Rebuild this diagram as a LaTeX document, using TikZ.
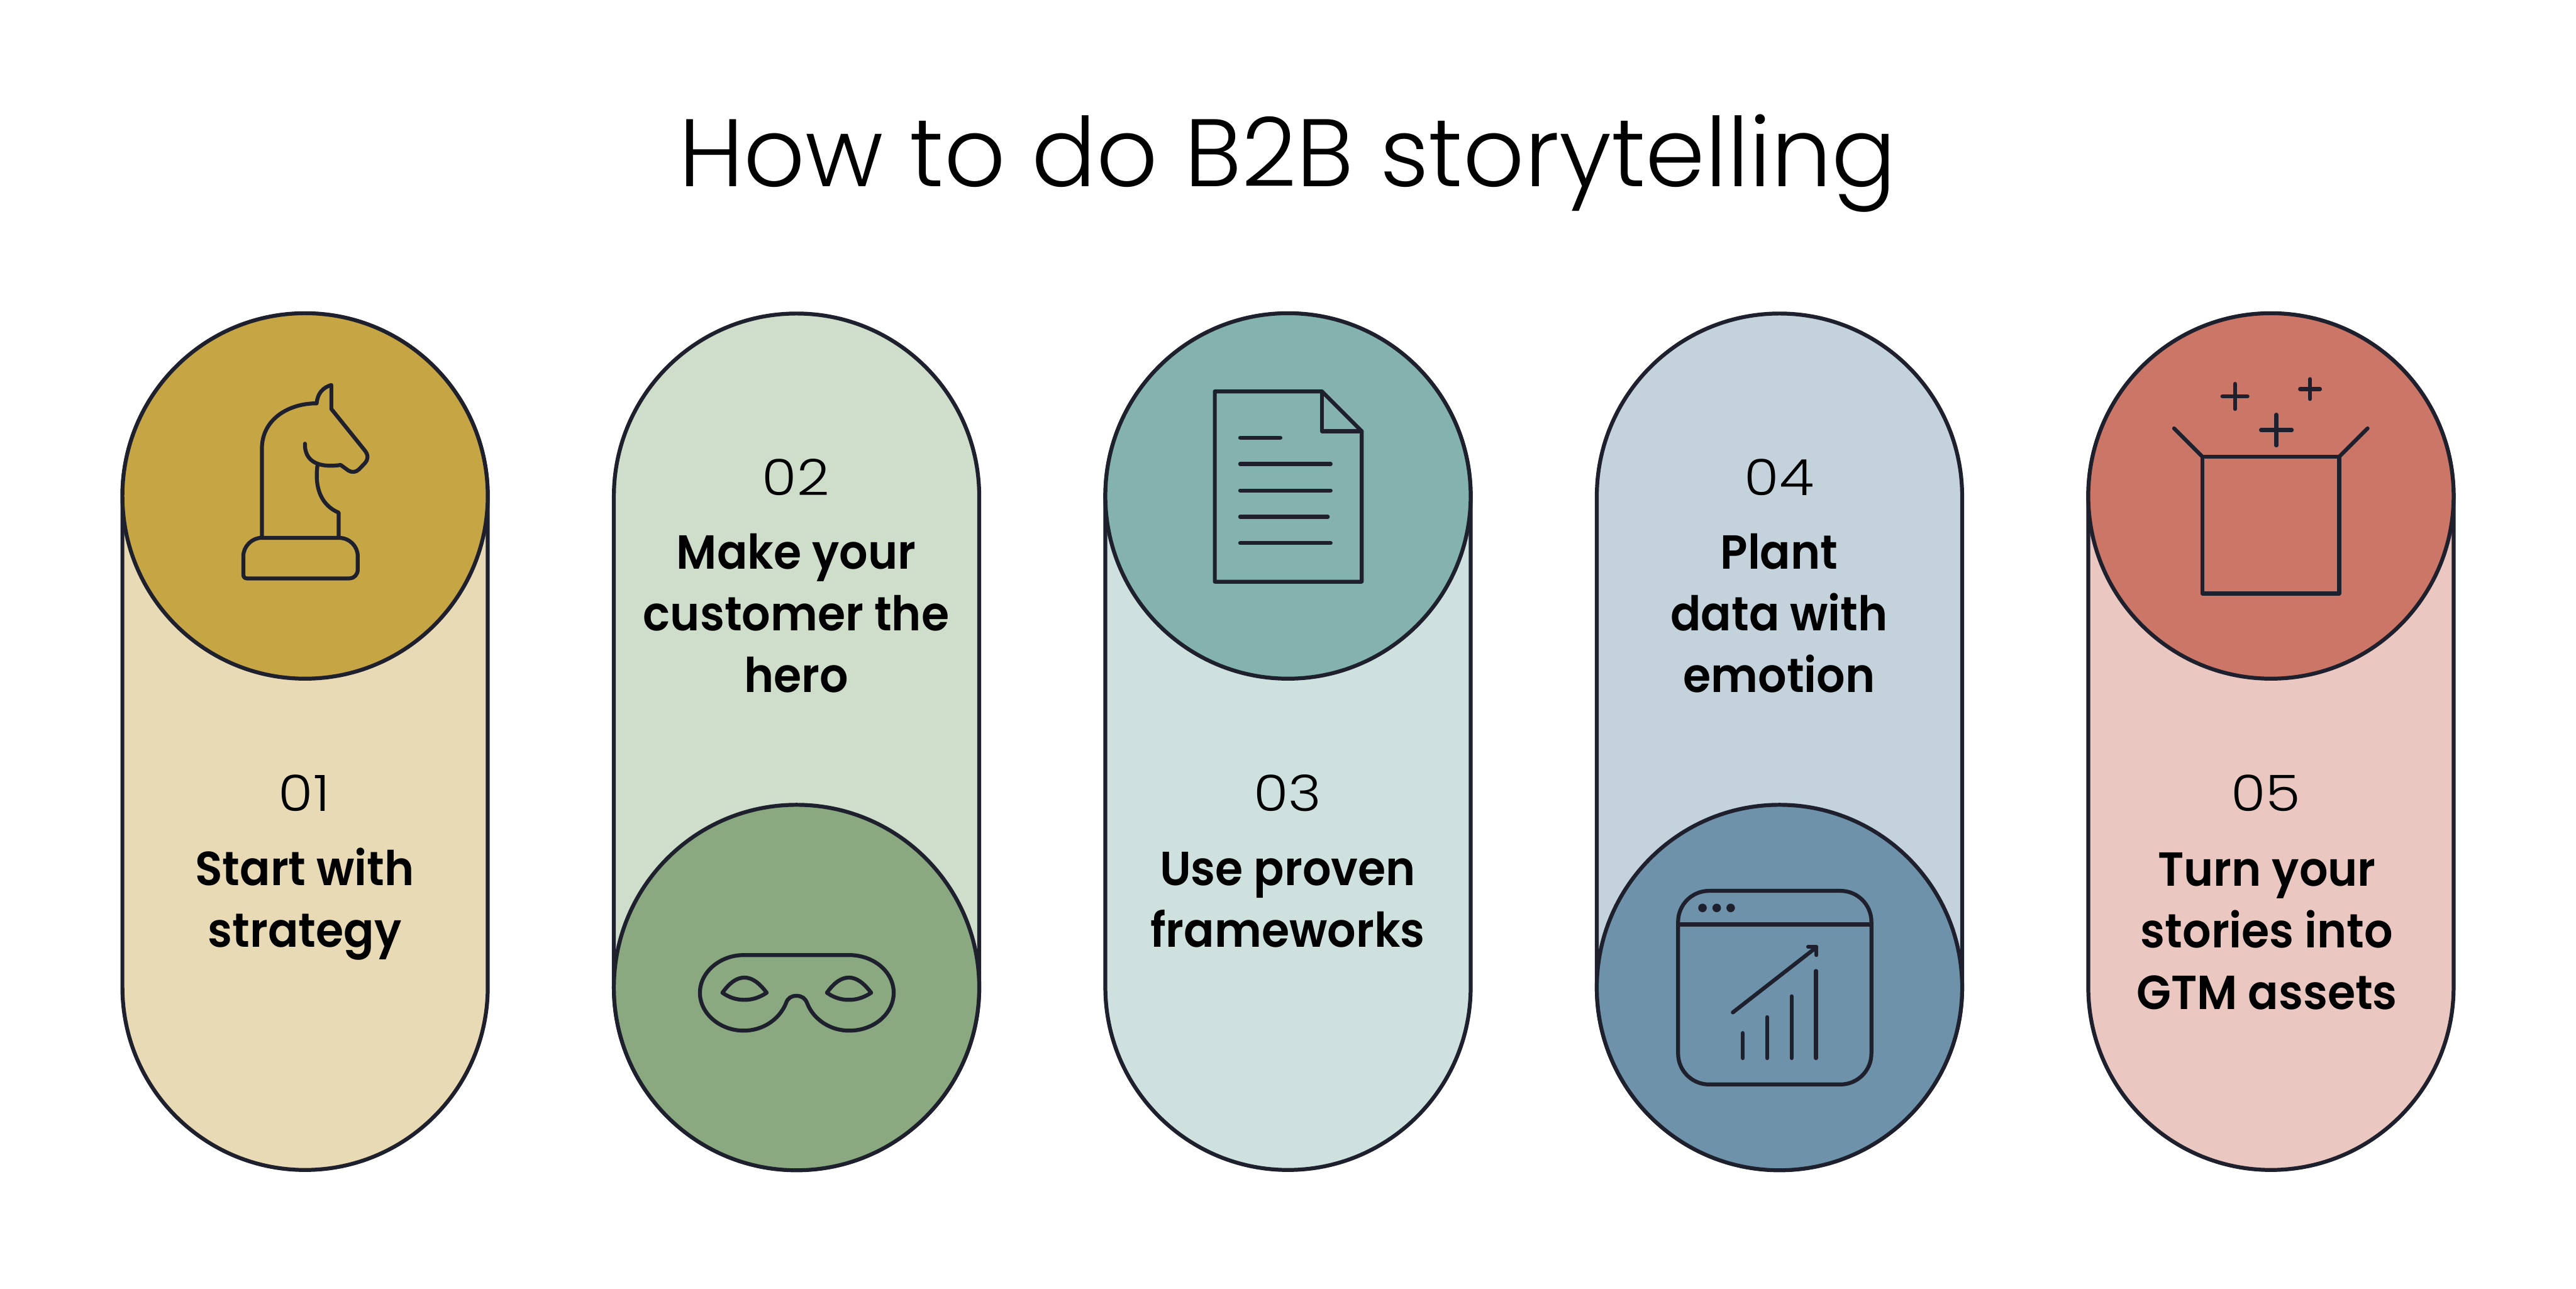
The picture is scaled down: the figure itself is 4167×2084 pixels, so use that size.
\documentclass[tikz,border=0pt]{standalone}
\usepackage{fontspec}
\setmainfont{Poppins}
\newfontfamily\titlefont{Poppins Light}
\newfontfamily\bodyfont[FakeStretch=0.94]{Poppins SemiBold}
\newfontfamily\numfont[FakeStretch=1.13]{Poppins Light}
\definecolor{ink}{HTML}{1E212D}
\definecolor{goldD}{HTML}{C6A544}\definecolor{goldL}{HTML}{E8DAB5}
\definecolor{greenD}{HTML}{8AA981}\definecolor{greenL}{HTML}{CFDDCB}
\definecolor{tealD}{HTML}{84B3AF}\definecolor{tealL}{HTML}{CEE1DF}
\definecolor{blueD}{HTML}{6E92A9}\definecolor{blueL}{HTML}{C4D2DB}
\definecolor{coralD}{HTML}{CB7666}\definecolor{coralL}{HTML}{EBC7C1}
\tikzset{
  capsule/.style={draw=ink,fill=#1,line width=1.8pt,rounded corners=2.955cm},
  badge/.style={draw=ink,fill=#1,line width=1.8pt},
  icon/.style={draw=ink,line width=1.8pt,line cap=round,line join=round},
  numlabel/.style={text=black,inner sep=0pt,anchor=base,font=\numfont\fontsize{23}{28}\selectfont},
  bodylabel/.style={text=black,inner sep=0pt,anchor=base,align=center,font=\bodyfont\fontsize{22}{28.35}\selectfont},
  crop/.style={x=#1,y=-#1}
}
\begin{document}
\begin{tikzpicture}[x=0.01cm,y=-0.01cm]
\useasboundingbox[fill=white] (0,0) rectangle (4167,2084);
\node[inner sep=0pt,anchor=base,text=black,font=\titlefont\fontsize{44.1}{54}\selectfont] (title) at (2083,302) {How to do B2B storytelling};
% capsules
\draw[capsule=goldL]  (198,507) rectangle (789,1892);
\draw[capsule=greenL] (993,507) rectangle (1584,1892);
\draw[capsule=tealL]  (1788,507) rectangle (2379,1892);
\draw[capsule=blueL]  (2583,507) rectangle (3174,1892);
\draw[capsule=coralL] (3378,507) rectangle (3969,1892);
% badges
\draw[badge=goldD]  (493.5,802) circle (295.5);
\draw[badge=greenD] (1288.5,1597) circle (295.5);
\draw[badge=tealD]  (2083.5,802) circle (295.5);
\draw[badge=blueD]  (2878.5,1597) circle (295.5);
\draw[badge=coralD] (3673.5,802) circle (295.5);
% knight
\begin{scope}[shift={(190,500)},crop=0.003954cm]
\draw[icon] (591,935) -- (591,570) .. controls (591,450) and (700,385) .. (815,385)
  .. controls (818,345) and (840,320) .. (875,310) -- (875,408) -- (1012,578)
  .. controls (1028,598) and (1025,615) .. (1012,630) -- (988,655)
  .. controls (975,668) and (958,668) .. (945,660) -- (913,637)
  .. controls (860,645) and (765,645) .. (767,550);
\draw[icon] (818,640) .. controls (805,740) and (840,805) .. (905,832) -- (905,935);
\draw[icon] (590,935) -- (905,935) .. controls (950,935) and (983,970) .. (983,1010) -- (983,1065)
  .. controls (983,1085) and (968,1101) .. (950,1101) -- (530,1101)
  .. controls (520,1101) and (515,1095) .. (515,1085) -- (515,1010)
  .. controls (515,970) and (550,935) .. (590,935) -- cycle;
\end{scope}
% mask
\begin{scope}[shift={(1000,1300)},crop=0.003827cm]
\draw[icon] (975,638) .. controls (1080,638) and (1163,710) .. (1163,797) .. controls (1163,885) and (1080,957) .. (975,957)
  .. controls (895,957) and (825,910) .. (798,842) .. controls (790,820) and (775,810) .. (752,810)
  .. controls (730,810) and (715,820) .. (708,842) .. controls (680,910) and (610,957) .. (530,957)
  .. controls (430,957) and (345,885) .. (345,797) .. controls (345,710) and (430,638) .. (530,638) -- cycle;
\foreach \dx in {0,441}{
\draw[icon,xshift=\dx*0.003827cm] (440,797) .. controls (470,755) and (500,733) .. (533,733) .. controls (565,733) and (595,755) .. (627,797)
  .. controls (595,818) and (565,827) .. (533,827) .. controls (500,827) and (470,818) .. (440,797) -- cycle;}
\end{scope}
% document
\begin{scope}[shift={(1780,500)},crop=0.003827cm]
\draw[icon] (483,347) -- (935,347) -- (1103,515) -- (1103,1150) -- (483,1150) -- cycle;
\draw[icon] (935,347) -- (935,515) -- (1103,515);
\draw[icon] (590,542) -- (760,542);
\draw[icon] (590,653) -- (972,653);
\draw[icon] (590,765) -- (972,765);
\draw[icon] (590,876) -- (960,876);
\draw[icon] (590,987) -- (972,987);
\end{scope}
% chart
\begin{scope}[shift={(2580,1300)},crop=0.003827cm]
\draw[icon,rounded corners=0.5cm] (351,367) rectangle (1167,1184);
\draw[icon] (351,509) -- (1167,509);
\fill[ink] (454,439) circle (18) (514,439) circle (18) (573,439) circle (18);
\draw[icon] (582,880) -- (935,605);
\draw[icon] (900,603) -- (935,603) -- (935,638);
\draw[icon] (624,967) -- (624,1073);
\draw[icon] (727,900) -- (727,1073);
\draw[icon] (830,812) -- (830,1073);
\draw[icon] (933,705) -- (933,1073);
\end{scope}
% box
\begin{scope}[shift={(3370,500)},crop=0.003827cm]
\draw[icon] (503,623) rectangle (1080,1200);
\draw[icon] (503,623) -- (383,503);
\draw[icon] (1080,623) -- (1200,503);
\draw[icon] (587,368) -- (693,368) (640,315) -- (640,421);
\draw[icon] (915,337) -- (999,337) (957,295) -- (957,379);
\draw[icon] (750,510) -- (880,510) (815,445) -- (815,575);
\end{scope}
% labels
\node[numlabel] (n1) at (492,1312) {01};
\node[numlabel] (n2) at (1287,801) {02};
\node[numlabel] (n3) at (2083,1312) {03};
\node[numlabel] (n4) at (2878,801) {04};
\node[numlabel] (n5) at (3665,1312) {05};
\node[bodylabel] (t1) at (493,1532) {Start with\\strategy};
\node[bodylabel] (t2) at (1288,1120) {Make your\\customer the\\hero};
\node[bodylabel] (t3) at (2083,1532) {Use proven\\frameworks};
\node[bodylabel] (t4) at (2878,1120) {Plant\\data with\\emotion};
\node[bodylabel] (t5) at (3667,1632) {Turn your\\stories into\\GTM assets};
\end{tikzpicture}
\end{document}
